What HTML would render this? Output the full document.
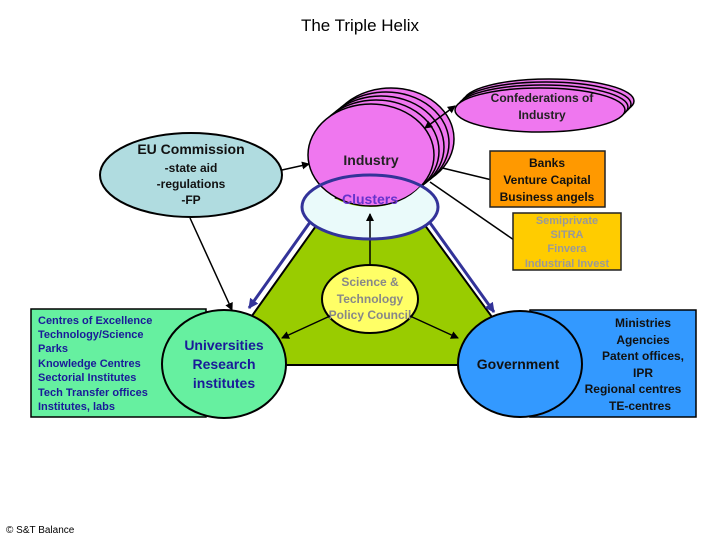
<!DOCTYPE html>
<html><head><meta charset="utf-8"><style>
html,body{margin:0;padding:0;background:#fff}
svg{display:block}
text{font-family:"Liberation Sans",sans-serif;font-weight:bold}
</style></head><body>
<svg width="720" height="540" viewBox="0 0 720 540" xmlns="http://www.w3.org/2000/svg">
<defs>
<marker id="a" markerWidth="8" markerHeight="8" refX="7" refY="4" orient="auto" markerUnits="userSpaceOnUse"><path d="M0,0 L8,4 L0,8 z" fill="#000"/></marker>
<marker id="ab" markerWidth="10" markerHeight="10" refX="9" refY="5" orient="auto" markerUnits="userSpaceOnUse"><path d="M0,0 L10,5 L0,10 z" fill="#333399"/></marker>
<marker id="as" markerWidth="8" markerHeight="8" refX="1" refY="4" orient="auto" markerUnits="userSpaceOnUse"><path d="M8,0 L0,4 L8,8 z" fill="#000"/></marker>
</defs>
<text x="360" y="31" font-size="17" text-anchor="middle" style="font-weight:normal">The Triple Helix</text>

<polygon points="370,150 217,365 527,365" fill="#99cc00" stroke="#000" stroke-width="2"/>

<line x1="313" y1="218" x2="249" y2="308" stroke="#333399" stroke-width="3" marker-end="url(#ab)"/>
<line x1="428" y1="220" x2="494" y2="312" stroke="#333399" stroke-width="3" marker-end="url(#ab)"/>

<rect x="31" y="309" width="175" height="108" fill="#66f0a0" stroke="#000" stroke-width="1.5"/>
<g font-size="11" fill="#1a1a99">
<text x="38" y="324">Centres of Excellence</text>
<text x="38" y="338">Technology/Science</text>
<text x="38" y="352">Parks</text>
<text x="38" y="367">Knowledge Centres</text>
<text x="38" y="381">Sectorial Institutes</text>
<text x="38" y="396">Tech Transfer offices</text>
<text x="38" y="410">Institutes, labs</text>
</g>
<ellipse cx="224" cy="364" rx="62" ry="54" fill="#66f0a0" stroke="#000" stroke-width="2"/>
<g font-size="14" fill="#1a1a99" text-anchor="middle">
<text x="224" y="350">Universities</text>
<text x="224" y="369">Research</text>
<text x="224" y="388">institutes</text>
</g>

<rect x="530" y="310" width="166" height="107" fill="#3399ff" stroke="#000" stroke-width="1.5"/>
<g font-size="12" fill="#111" text-anchor="middle">
<text x="643" y="327">Ministries</text>
<text x="643" y="344">Agencies</text>
<text x="643" y="360">Patent offices,</text>
<text x="643" y="377">IPR</text>
<text x="633" y="393">Regional centres</text>
<text x="640" y="410">TE-centres</text>
</g>
<ellipse cx="520" cy="364" rx="62" ry="53" fill="#3399ff" stroke="#000" stroke-width="2"/>
<text x="518" y="369" font-size="14" fill="#111" text-anchor="middle">Government</text>

<ellipse cx="370" cy="299" rx="48" ry="34" fill="#ffff66" stroke="#000" stroke-width="2"/>
<g font-size="12" fill="#888" text-anchor="middle">
<text x="370" y="286">Science &amp;</text>
<text x="370" y="303">Technology</text>
<text x="370" y="319">Policy Council</text>
</g>
<line x1="330" y1="316" x2="282" y2="338" stroke="#000" stroke-width="1.5" marker-end="url(#a)"/>
<line x1="410" y1="316" x2="458" y2="338" stroke="#000" stroke-width="1.5" marker-end="url(#a)"/>

<line x1="190" y1="218" x2="232" y2="310" stroke="#000" stroke-width="1.5" marker-end="url(#a)"/>
<line x1="282" y1="170" x2="309" y2="164" stroke="#000" stroke-width="1.5" marker-end="url(#a)"/>
<ellipse cx="191" cy="175" rx="91" ry="42" fill="#b0dce0" stroke="#000" stroke-width="2"/>
<text x="191" y="154" font-size="14" fill="#111" text-anchor="middle">EU Commission</text>
<g font-size="12" fill="#111" text-anchor="middle">
<text x="191" y="172">-state aid</text>
<text x="191" y="188">-regulations</text>
<text x="191" y="204">-FP</text>
</g>

<line x1="430" y1="165" x2="492" y2="180" stroke="#000" stroke-width="1.5"/>
<line x1="430" y1="182" x2="514" y2="240" stroke="#000" stroke-width="1.5"/>

<g fill="#ef77ef" stroke="#000" stroke-width="1.5">
<ellipse cx="549" cy="101" rx="85" ry="22"/>
<ellipse cx="546" cy="104" rx="85" ry="22"/>
<ellipse cx="543" cy="107" rx="85" ry="22"/>
<ellipse cx="540" cy="110" rx="85" ry="22"/>
</g>
<g font-size="12" fill="#222" text-anchor="middle">
<text x="542" y="102">Confederations of</text>
<text x="542" y="119">Industry</text>
</g>

<g fill="#ef77ef" stroke="#000" stroke-width="1.5">
<ellipse cx="391" cy="139" rx="63" ry="51"/>
<ellipse cx="386" cy="143" rx="63" ry="51"/>
<ellipse cx="381" cy="147" rx="63" ry="51"/>
<ellipse cx="376" cy="151" rx="63" ry="51"/>
<ellipse cx="371" cy="155" rx="63" ry="51"/>
</g>
<line x1="425" y1="128" x2="455" y2="106" stroke="#000" stroke-width="1.5" marker-end="url(#a)" marker-start="url(#as)"/>
<text x="371" y="165" font-size="14" fill="#222" text-anchor="middle">Industry</text>

<path d="M319,186 A68,32 0 1 0 421,186 A63,51 0 0 1 319,186 Z" fill="#eafafa"/>
<line x1="370" y1="266" x2="370" y2="214" stroke="#000" stroke-width="1.5" marker-end="url(#a)"/>
<ellipse cx="370" cy="207" rx="68" ry="32" fill="none" stroke="#333399" stroke-width="3"/>
<text x="370" y="204" font-size="14" fill="#6633cc" text-anchor="middle">Clusters</text>

<rect x="490" y="151" width="115" height="56" fill="#ff9900" stroke="#222" stroke-width="1.5"/>
<g font-size="12" fill="#111" text-anchor="middle">
<text x="547" y="167">Banks</text>
<text x="547" y="184">Venture Capital</text>
<text x="547" y="201">Business angels</text>
</g>
<rect x="513" y="213" width="108" height="57" fill="#ffcc00" stroke="#222" stroke-width="1.5"/>
<g font-size="11" fill="#999" text-anchor="middle">
<text x="567" y="224">Semiprivate</text>
<text x="567" y="238">SITRA</text>
<text x="567" y="252">Finvera</text>
<text x="567" y="267">Industrial Invest</text>
</g>

<text x="6" y="533" font-size="10" fill="#000" style="font-weight:normal">© S&amp;T Balance</text>
</svg>
</body></html>
